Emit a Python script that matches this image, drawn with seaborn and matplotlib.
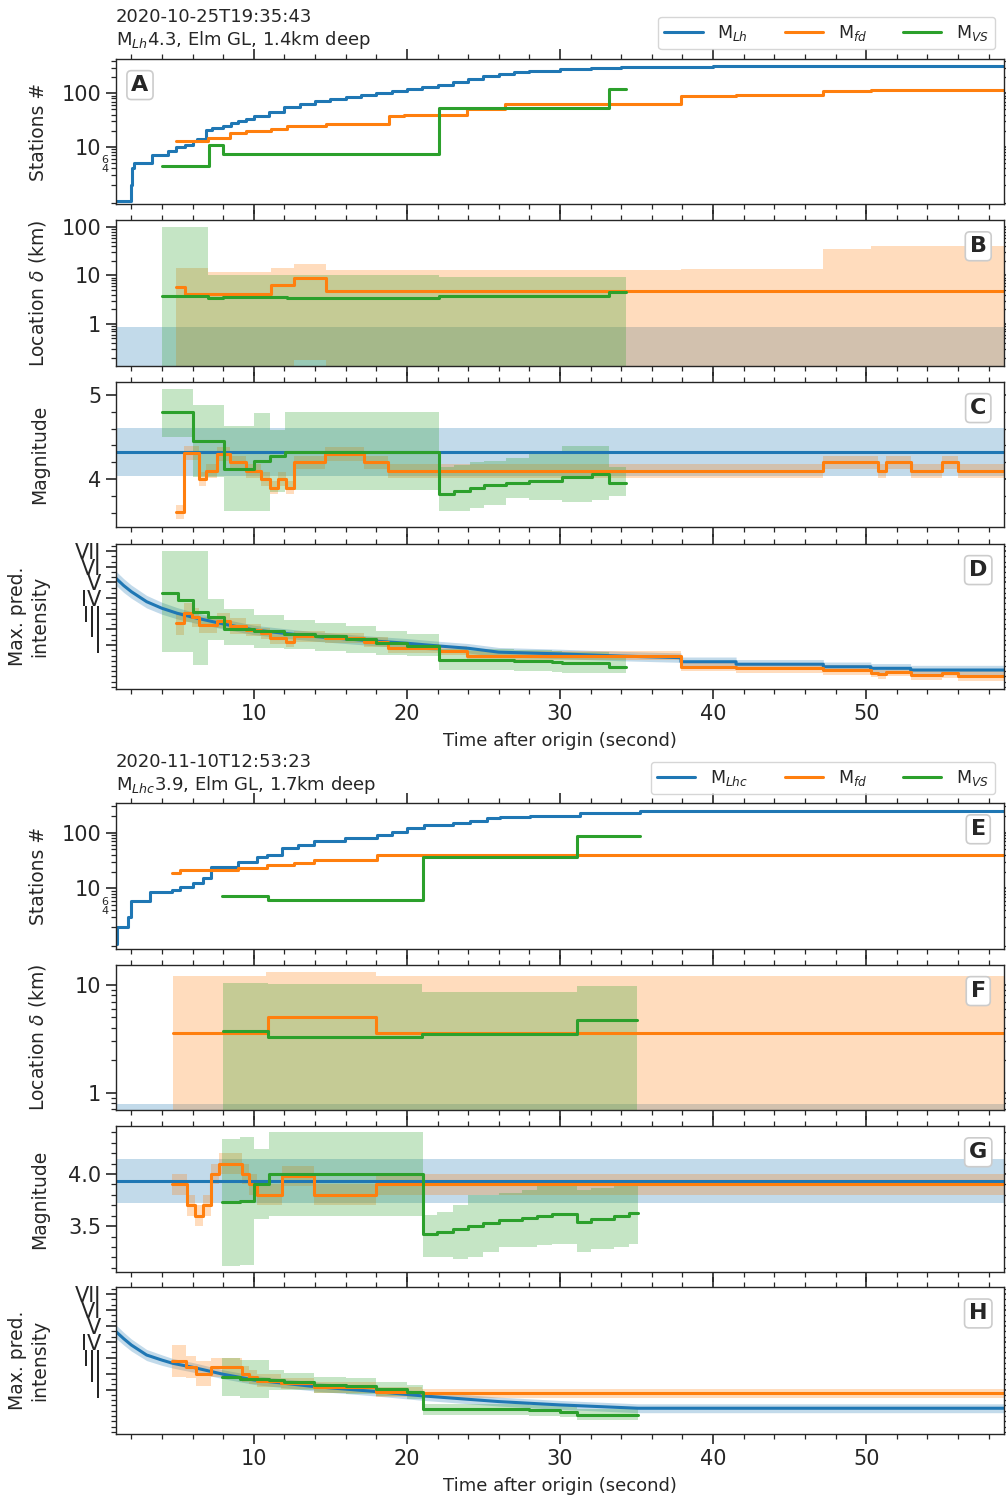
import matplotlib
matplotlib.use('Agg')
import matplotlib.pyplot as plt
from matplotlib.ticker import MultipleLocator, FixedLocator, FuncFormatter, LogLocator, NullFormatter
from matplotlib.lines import Line2D
import seaborn as sns

# ---------------- event 1 : 2020-10-25 ----------------
ev1_title = '2020-10-25T19:35:43\nM$_{Lh}$4.3, Elm GL, 1.4km deep'
ev1_names = ['M$_{Lh}$', 'M$_{fd}$', 'M$_{VS}$']

# stations # (A)
ev1_sta_lh_t = [1.0, 2.0, 2.05, 2.15, 3.35, 4.4, 4.9, 5.5, 6.0, 6.3, 6.9, 7.3, 8.0, 8.5, 9.0, 9.5, 10.0,
                11.0, 12.0, 13.0, 14.0, 15.0, 16.0, 17.0, 18.0, 19.0, 20.0, 21.0, 22.0, 23.0, 24.0, 25.0,
                26.0, 27.0, 28.0, 30.0, 32.0, 34.0, 37.0, 40.0, 47.0, 59.0]
ev1_sta_lh = [1, 2, 4, 5, 7, 8.5, 10, 11, 13, 14, 21, 23, 25, 28, 30, 33, 37, 45, 55, 63, 72, 78, 85,
              92, 100, 110, 120, 130, 145, 160, 180, 205, 230, 245, 258, 283, 295, 303, 310, 316, 325, 325]
ev1_sta_fd_t = [4.9, 7.0, 8.45, 9.5, 11.1, 12.2, 14.7, 18.8, 19.8, 23.9, 26.4, 37.9, 41.5, 47.2, 50.3, 59.0]
ev1_sta_fd = [13, 15, 18, 20, 22, 25, 27, 37, 40, 50, 62, 90, 94, 112, 115, 115]
ev1_sta_vs_t = [4.0, 7.1, 8.0, 22.1, 33.2, 34.3]
ev1_sta_vs = [4.4, 11, 7.5, 54, 120, 120]

# location uncertainty (B)
ev1_loc_lh_band = [0.85, 0.85]
ev1_loc_fd_t = [4.9, 5.5, 11.1, 12.6, 14.7, 59.0]
ev1_loc_fd = [5.8, 4.2, 6.4, 9.0, 4.8, 4.8]
ev1_loc_fd_band_t = [4.9, 7.0, 11.1, 12.6, 14.7, 37.9, 47.2, 50.3, 59.0]
ev1_loc_fd_hi = [14.4, 12.0, 14.5, 17.5, 13.0, 13.8, 35.5, 41.6, 41.6]
ev1_loc_fd_lo = [0.05, 0.05, 0.05, 0.18, 0.05, 0.05, 0.05, 0.05, 0.05]
ev1_loc_vs_t = [4.0, 7.0, 8.0, 12.2, 22.1, 33.2, 34.3]
ev1_loc_vs = [3.8, 3.5, 3.6, 3.5, 3.8, 4.5, 4.5]
ev1_loc_vs_band_t = [4.0, 7.0, 22.1, 34.3]
ev1_loc_vs_hi = [100, 10.3, 9.4, 9.4]

# magnitude (C)
ev1_mag_lh = 4.32
ev1_mag_lh_band = [4.04, 4.61]
ev1_mag_fd_t = [4.9, 5.46, 6.4, 6.9, 7.6, 8.45, 9.5, 10.5, 11.07, 11.6, 12.1, 12.6, 14.66, 17.2, 18.76,
                47.2, 50.8, 51.3, 52.9, 54.95, 55.98, 59.0]
ev1_mag_fd = [3.61, 4.31, 4.0, 4.1, 4.3, 4.2, 4.1, 4.0, 3.9, 4.0, 3.9, 4.2, 4.3, 4.2, 4.1,
              4.2, 4.1, 4.2, 4.1, 4.2, 4.1, 4.1]
ev1_mag_fd_err = 0.08
ev1_mag_vs_t = [4.0, 6.05, 8.08, 10.0, 11.07, 12.05, 22.07, 23.05, 24.1, 25.06, 26.5, 28.0, 30.1, 32.1, 33.2, 34.3]
ev1_mag_vs = [4.8, 4.45, 4.12, 4.22, 4.28, 4.32, 3.82, 3.86, 3.9, 3.93, 3.95, 3.98, 4.03, 4.06, 3.96, 3.96]
ev1_mag_vs_hi = [5.07, 4.88, 4.63, 4.78, 4.58, 4.8, 4.15, 4.17, 4.2, 4.22, 4.25, 4.3, 4.39, 4.39, 4.15, 4.15]
ev1_mag_vs_lo = [4.5, 4.03, 3.62, 3.63, 3.85, 3.87, 3.62, 3.63, 3.66, 3.7, 3.78, 3.76, 3.73, 3.75, 3.8, 3.8]

# max predicted intensity (D)
ev1_int_lh_t = [1, 1.5, 2, 3, 4, 5, 6, 8, 10, 12, 14, 16, 18, 20, 22, 24, 26, 30, 34,
                37.9, 37.9, 41.5, 41.5, 47.2, 47.2, 50.3, 50.3, 52.9, 52.9, 59]
ev1_int_lh = [5.26, 4.8, 4.41, 3.77, 3.35, 3.03, 2.78, 2.35, 1.97, 1.75, 1.55, 1.4, 1.25, 1.12, 0.95,
              0.8, 0.55, 0.44, 0.3, 0.2, -0.06, -0.06, -0.22, -0.22, -0.38, -0.38, -0.48, -0.48, -0.59, -0.59]
ev1_int_lh_err = [0.45, 0.44, 0.42, 0.4, 0.38, 0.36, 0.34, 0.32, 0.3, 0.3, 0.3, 0.3, 0.3, 0.3, 0.3,
                  0.3, 0.3, 0.3, 0.3, 0.3, 0.3, 0.3, 0.3, 0.3, 0.3, 0.3, 0.3, 0.3, 0.3, 0.3]
ev1_int_fd_t = [4.9, 5.46, 5.95, 6.4, 7.6, 8.45, 9.5, 10.5, 11.07, 12.1, 12.6, 14.66, 17.2, 18.76, 22.07,
                23.9, 37.9, 41.5, 47.2, 50.3, 50.8, 51.3, 52.9, 54.95, 55.98, 59.0]
ev1_int_fd = [2.39, 3.07, 2.77, 2.28, 2.56, 2.2, 1.97, 1.75, 1.44, 1.22, 1.58, 1.45, 1.2, 0.8, 0.65,
              0.32, -0.37, -0.48, -0.59, -0.76, -0.86, -0.69, -0.9, -0.8, -0.97, -0.97]
ev1_int_fd_err = [0.75, 0.6, 0.6, 0.5, 0.5, 0.5, 0.4, 0.35, 0.35, 0.35, 0.35, 0.3, 0.3, 0.3, 0.3,
                  0.3, 0.3, 0.3, 0.3, 0.3, 0.3, 0.3, 0.3, 0.3, 0.3, 0.3]
ev1_int_vs_t = [4.0, 5.03, 6.05, 7.0, 8.08, 10, 12, 14, 16, 18, 20, 22.07, 27.0, 29.5, 30.1, 33.2, 34.3]
ev1_int_vs = [4.34, 3.88, 3.13, 2.77, 2.03, 1.9, 1.71, 1.58, 1.37, 1.12, 0.97, 0.05, 0.0, -0.06, -0.16, -0.41, -0.41]
ev1_int_vs_hi = [7.0, 7.0, 7.0, 3.92, 3.3, 2.9, 2.6, 2.4, 2.2, 1.9, 1.7, 0.75, 0.7, 0.65, 0.55, 0.3, 0.3]
ev1_int_vs_lo = [0.58, 0.58, -0.27, 1.3, 1.0, 0.8, 0.75, 0.65, 0.5, 0.4, 0.3, -0.6, -0.65, -0.7, -0.75, -0.75, -0.75]

# ---------------- event 2 : 2020-11-10 ----------------
ev2_title = '2020-11-10T12:53:23\nM$_{Lhc}$3.9, Elm GL, 1.7km deep'
ev2_names = ['M$_{Lhc}$', 'M$_{fd}$', 'M$_{VS}$']

# stations # (E)
ev2_sta_lh_t = [1.0, 1.05, 1.8, 2.0, 3.2, 4.64, 5.19, 6.06, 6.71, 7.19, 8.99, 10.2, 10.85, 11.83, 12.92,
                13.9, 15.97, 18.04, 19.02, 20.0, 21.1, 23.0, 24.1, 25.2, 26.1, 28.06, 31.3, 35.2, 59.0]
ev2_sta_lh = [1, 2, 3, 6, 8.5, 9.3, 10.7, 12.3, 15, 24, 30, 37, 40, 52, 60, 71, 79, 90, 104, 119,
              137, 150, 164, 180, 190, 200, 222, 242, 242]
ev2_sta_fd_t = [4.64, 5.19, 6.7, 9.0, 10.85, 12.6, 13.9, 18.04, 59.0]
ev2_sta_fd = [18.5, 21.5, 21, 23.5, 26, 28, 32, 39.5, 39.5]
ev2_sta_vs_t = [7.9, 10.95, 21.05, 31.1, 35.2]
ev2_sta_vs = [7.4, 6.2, 36, 88, 88]

# location uncertainty (F)
ev2_loc_lh_band = [0.78, 0.78]
ev2_loc_fd_t = [4.74, 10.9, 18.0, 59.0]
ev2_loc_fd = [3.6, 5.0, 3.6, 3.6]
ev2_loc_fd_band_t = [4.74, 10.8, 18.0, 59.0]
ev2_loc_fd_hi = [12.1, 13.3, 12.1, 12.1]
ev2_loc_vs_t = [8.0, 10.95, 21.0, 31.1, 35.05]
ev2_loc_vs = [3.75, 3.27, 3.5, 4.73, 4.73]
ev2_loc_vs_hi = [10.4, 10.2, 8.6, 9.7, 9.7]

# magnitude (G)
ev2_mag_lh = 3.93
ev2_mag_lh_band = [3.72, 4.14]
ev2_mag_fd_t = [4.68, 5.62, 6.18, 6.68, 7.19, 7.7, 9.2, 9.7, 10.2, 11.83, 13.9, 18.0, 59.0]
ev2_mag_fd = [3.9, 3.7, 3.6, 3.7, 4.0, 4.1, 4.0, 3.9, 3.8, 3.98, 3.8, 3.9, 3.9]
ev2_mag_fd_err = 0.1
ev2_mag_vs_t = [7.9, 9.1, 10.0, 11.0, 21.05, 21.95, 23.0, 24.0, 25.0, 26.0, 27.5, 28.5, 29.5, 31.1,
                32.0, 33.5, 34.5, 35.1]
ev2_mag_vs = [3.73, 3.74, 3.9, 4.0, 3.42, 3.44, 3.47, 3.5, 3.53, 3.56, 3.58, 3.6, 3.62, 3.54, 3.57, 3.6, 3.63, 3.63]
ev2_mag_vs_lo = [3.12, 3.13, 3.57, 3.6, 3.2, 3.2, 3.18, 3.2, 3.25, 3.3, 3.3, 3.32, 3.33, 3.25, 3.28, 3.3, 3.33, 3.33]
ev2_mag_vs_hi = [4.34, 4.35, 4.24, 4.4, 3.61, 3.64, 3.7, 3.8, 3.8, 3.82, 3.85, 3.88, 3.9, 3.85, 3.87, 3.9, 3.92, 3.92]

# max predicted intensity (H)
ev2_int_lh_t = [1, 1.5, 2, 3, 4, 4.7, 6, 8, 10, 14, 18, 21, 26, 30, 35.1, 59]
ev2_int_lh = [4.64, 4.2, 3.8, 3.17, 2.85, 2.65, 2.4, 1.96, 1.6, 1.18, 0.87, 0.6, 0.24, 0.03, -0.18, -0.18]
ev2_int_lh_err = [0.42, 0.4, 0.38, 0.35, 0.33, 0.3, 0.3, 0.28, 0.28, 0.28, 0.28, 0.28, 0.28, 0.28, 0.28, 0.28]
ev2_int_fd_t = [4.68, 5.6, 6.2, 7.2, 9.2, 9.7, 10.2, 11.8, 13.9, 18.0, 21.0, 59.0]
ev2_int_fd = [2.8, 2.4, 2.0, 2.4, 2.0, 1.8, 1.55, 1.4, 1.15, 0.85, 0.76, 0.76]
ev2_int_fd_err = [1.0, 0.7, 0.8, 0.6, 0.5, 0.45, 0.4, 0.35, 0.35, 0.3, 0.3, 0.3]
ev2_int_vs_t = [7.9, 9.1, 11.0, 12.0, 13.9, 16.0, 18.0, 20.0, 21.05, 28.0, 30.0, 31.1, 35.1]
ev2_int_vs = [1.8, 1.65, 1.6, 1.5, 1.3, 1.2, 1.05, 0.85, -0.25, -0.3, -0.4, -0.6, -0.6]
ev2_int_vs_err = [1.2, 1.2, 0.6, 0.55, 0.5, 0.5, 0.45, 0.45, 0.35, 0.35, 0.35, 0.35, 0.35]

intensity_ticks = [1, 2, 3, 4, 5, 6, 7]
intensity_labels = ['I', 'II', 'III', 'IV', 'V', 'VI', 'VII']
t_range = [1.0, 59.0]

sns.set_style('ticks')
plt.rcParams['font.family'] = ['DejaVu Sans']
plt.rcParams['axes.linewidth'] = 1.0
BLUE, ORANGE, GREEN = sns.color_palette('tab10')[:3]
ALPHA = 0.27
TICK_FS = 15
LABEL_FS = 13.5


def line(ax, t, v, color, steps=True):
    kw = dict(drawstyle='steps-post') if steps else {}
    sns.lineplot(x=t, y=v, ax=ax, color=color, lw=2.2, estimator=None, sort=False, **kw)


def band(ax, t, lo, hi, color, steps=True):
    if steps:
        ax.fill_between(t, lo, hi, step='post', color=color, alpha=ALPHA, lw=0)
    else:
        ax.fill_between(t, lo, hi, color=color, alpha=ALPHA, lw=0)


def pm(v, e):
    if isinstance(e, (int, float)):
        e = [e] * len(v)
    return [a - b for a, b in zip(v, e)], [a + b for a, b in zip(v, e)]


def minor_label(v, pos):
    return str(int(round(v))) if round(v) in (4, 6) and abs(v - round(v)) < 1e-6 else ''


def letter(ax, s, x):
    ax.text(x, 0.82, s, transform=ax.transAxes, ha='center', va='center', fontsize=16,
            fontweight='bold', bbox=dict(boxstyle='round,pad=0.2', fc='white', ec='0.8', lw=1.2))


fig = plt.figure(figsize=(10.06, 14.98), dpi=100)
FH = 1498.0


def panel(top, bottom):
    return fig.add_axes([116 / 1006, 1 - bottom / FH, 888 / 1006, (bottom - top) / FH])


def style(ax, bottom_labels):
    ax.set_xlim(t_range)
    ax.xaxis.set_major_locator(MultipleLocator(10))
    ax.xaxis.set_minor_locator(MultipleLocator(2))
    ax.tick_params(which='both', direction='out', top=True, right=True, labelsize=TICK_FS)
    ax.tick_params(which='major', length=7, width=1.2)
    ax.tick_params(which='minor', length=3.5, width=0.9)
    ax.tick_params(axis='x', labelbottom=bottom_labels)
    ax.set_xlabel('')


def draw_event(tops, title, names, sta, loc, mag, inten, letters, legend_y, title_y,
               sta_ylim, loc_ylim, loc_ticks, mag_ylim, mag_ticks, mag_fmt, mag_minor):
    axA, axB, axC, axD = [panel(a, b) for a, b in tops]

    # --- stations
    lh_t, lh, fd_t, fd, vs_t, vs = sta
    axA.set_yscale('log')
    line(axA, lh_t, lh, BLUE)
    line(axA, fd_t, fd, ORANGE)
    line(axA, vs_t, vs, GREEN)
    axA.set_ylim(sta_ylim)
    axA.yaxis.set_major_locator(FixedLocator([10, 100]))
    axA.yaxis.set_major_formatter(FuncFormatter(lambda v, p: '%d' % v))
    axA.yaxis.set_minor_locator(LogLocator(base=10, subs=range(2, 10)))
    axA.yaxis.set_minor_formatter(FuncFormatter(minor_label))
    axA.set_ylabel('Stations #', fontsize=LABEL_FS)

    # --- location
    lh_band, fd_t, fd, fdb_t, fd_lo, fd_hi, vs_t, vs, vsb_t, vs_hi = loc
    axB.set_yscale('log')
    band(axB, t_range, [1e-3, 1e-3], lh_band, BLUE)
    band(axB, fdb_t, fd_lo, fd_hi, ORANGE)
    band(axB, vsb_t, [1e-3] * len(vsb_t), vs_hi, GREEN)
    line(axB, fd_t, fd, ORANGE)
    line(axB, vs_t, vs, GREEN)
    axB.set_ylim(loc_ylim)
    axB.yaxis.set_major_locator(FixedLocator(loc_ticks))
    axB.yaxis.set_major_formatter(FuncFormatter(lambda v, p: '%g' % v))
    axB.yaxis.set_minor_locator(LogLocator(base=10, subs=range(2, 10)))
    axB.yaxis.set_minor_formatter(NullFormatter())
    axB.set_ylabel('Location $\\delta$ (km)', fontsize=LABEL_FS)

    # --- magnitude
    lh_m, lh_band, fd_t, fd, fd_err, vs_t, vs, vs_lo, vs_hi = mag
    band(axC, t_range, [lh_band[0]] * 2, [lh_band[1]] * 2, BLUE)
    lo, hi = pm(fd, fd_err)
    band(axC, fd_t, lo, hi, ORANGE)
    band(axC, vs_t, vs_lo, vs_hi, GREEN)
    line(axC, t_range, [lh_m, lh_m], BLUE, steps=False)
    line(axC, fd_t, fd, ORANGE)
    line(axC, vs_t, vs, GREEN)
    axC.set_ylim(mag_ylim)
    axC.yaxis.set_major_locator(FixedLocator(mag_ticks))
    axC.yaxis.set_major_formatter(FuncFormatter(lambda v, p: mag_fmt % v))
    axC.yaxis.set_minor_locator(MultipleLocator(mag_minor))
    axC.set_ylabel('Magnitude', fontsize=LABEL_FS)

    # --- intensity
    lh_t, lh, lh_err, fd_t, fd, fd_err, vs_t, vs, vs_lo, vs_hi = inten
    lo, hi = pm(lh, lh_err)
    band(axD, lh_t, lo, hi, BLUE, steps=False)
    lo, hi = pm(fd, fd_err)
    band(axD, fd_t, lo, hi, ORANGE)
    band(axD, vs_t, vs_lo, vs_hi, GREEN)
    line(axD, lh_t, lh, BLUE, steps=False)
    line(axD, fd_t, fd, ORANGE)
    line(axD, vs_t, vs, GREEN)
    axD.set_ylim(-1.8, 7.45)
    axD.yaxis.set_major_locator(FixedLocator(intensity_ticks))
    axD.yaxis.set_major_formatter(FuncFormatter(lambda v, p: intensity_labels[int(round(v)) - 1]))
    axD.yaxis.set_minor_locator(MultipleLocator(1 / 3))
    axD.set_ylabel('Max. pred.\nintensity', fontsize=LABEL_FS)

    for ax, s in zip([axA, axB, axC, axD], letters):
        style(ax, ax is axD)
        letter(ax, s, 0.027 if s in 'A' else 0.971)
    axA.tick_params(axis='y', which='minor', labelsize=8, pad=2)
    axD.set_xlabel('Time after origin (second)', fontsize=13, labelpad=6)

    axA.yaxis.set_label_coords(-0.077, 0.5)
    axB.yaxis.set_label_coords(-0.077, 0.5)
    axC.yaxis.set_label_coords(-0.075, 0.5)
    axD.yaxis.set_label_coords(-0.075, 0.5)

    handles = [Line2D([], [], color=c, lw=2.2) for c in (BLUE, ORANGE, GREEN)]
    fig.legend(handles, names, ncol=3, loc='upper right', fontsize=12.5,
               bbox_to_anchor=(995 / 1006, 1 - legend_y / FH), borderaxespad=0,
               handlelength=2.2, handletextpad=0.85, columnspacing=2.1, frameon=True,
               edgecolor='0.8', borderpad=0.35)
    fig.text(116 / 1006, 1 - title_y / FH, title, ha='left', va='top', fontsize=13)


draw_event([(59, 204), (220, 366), (382, 527), (544, 689)], ev1_title, ev1_names,
           (ev1_sta_lh_t, ev1_sta_lh, ev1_sta_fd_t, ev1_sta_fd, ev1_sta_vs_t, ev1_sta_vs),
           (ev1_loc_lh_band, ev1_loc_fd_t, ev1_loc_fd, ev1_loc_fd_band_t, ev1_loc_fd_lo, ev1_loc_fd_hi,
            ev1_loc_vs_t, ev1_loc_vs, ev1_loc_vs_band_t, ev1_loc_vs_hi),
           (ev1_mag_lh, ev1_mag_lh_band, ev1_mag_fd_t, ev1_mag_fd, ev1_mag_fd_err,
            ev1_mag_vs_t, ev1_mag_vs, ev1_mag_vs_lo, ev1_mag_vs_hi),
           (ev1_int_lh_t, ev1_int_lh, ev1_int_lh_err, ev1_int_fd_t, ev1_int_fd, ev1_int_fd_err,
            ev1_int_vs_t, ev1_int_vs, ev1_int_vs_lo, ev1_int_vs_hi),
           'ABCD', 17, 8, (0.87, 433), (0.135, 140), [1, 10, 100], (3.435, 5.15), [4, 5], '%d', 0.2)

ev2_int_vs_lo, ev2_int_vs_hi = pm(ev2_int_vs, ev2_int_vs_err)
draw_event([(803, 949), (965, 1110), (1126, 1272), (1287, 1434)], ev2_title, ev2_names,
           (ev2_sta_lh_t, ev2_sta_lh, ev2_sta_fd_t, ev2_sta_fd, ev2_sta_vs_t, ev2_sta_vs),
           (ev2_loc_lh_band, ev2_loc_fd_t, ev2_loc_fd, ev2_loc_fd_band_t, [1e-3] * len(ev2_loc_fd_band_t),
            ev2_loc_fd_hi, ev2_loc_vs_t, ev2_loc_vs, ev2_loc_vs_t, ev2_loc_vs_hi),
           (ev2_mag_lh, ev2_mag_lh_band, ev2_mag_fd_t, ev2_mag_fd, ev2_mag_fd_err,
            ev2_mag_vs_t, ev2_mag_vs, ev2_mag_vs_lo, ev2_mag_vs_hi),
           (ev2_int_lh_t, ev2_int_lh, ev2_int_lh_err, ev2_int_fd_t, ev2_int_fd, ev2_int_fd_err,
            ev2_int_vs_t, ev2_int_vs, ev2_int_vs_lo, ev2_int_vs_hi),
           'EFGH', 762, 753, (0.81, 341), (0.69, 15.3), [1, 10], (3.06, 4.46), [3.5, 4.0], '%.1f', 0.1)

fig.savefig('out.png', dpi=100)
